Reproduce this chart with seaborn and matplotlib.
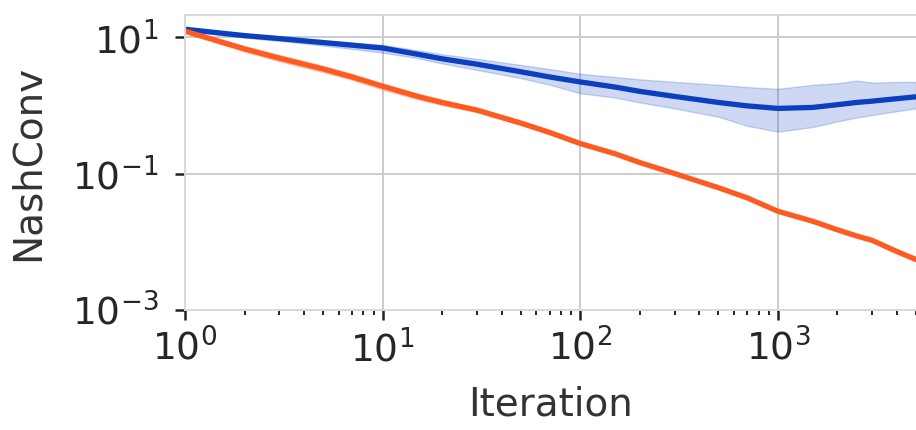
import numpy as np
import pandas as pd
import matplotlib
matplotlib.use('Agg')
import matplotlib.pyplot as plt
import seaborn as sns

# iterations sampled from the curves
iters = [1, 2, 3, 5, 7, 10, 15, 20, 30, 50, 70, 100, 150, 200, 300, 500, 700,
         1000, 1500, 2000, 2500, 3000, 4000, 5000]

# blue run (mean and band)
blue_mean = [13.0, 10.5, 9.5, 8.3, 7.6, 6.9, 5.6, 4.8, 4.0, 3.1, 2.6, 2.2, 1.85,
             1.6, 1.35, 1.1, 0.98, 0.9, 0.93, 1.02, 1.1, 1.15, 1.25, 1.33]
blue_hi = [13.6, 11.2, 10.2, 9.0, 8.3, 7.7, 6.4, 5.6, 4.8, 3.9, 3.4, 2.9, 2.6,
           2.4, 2.2, 2.0, 1.85, 1.74, 2.0, 2.1, 2.3, 2.15, 2.2, 2.2]
blue_lo = [12.5, 9.8, 8.8, 7.5, 6.7, 5.9, 4.9, 4.1, 3.3, 2.5, 2.0, 1.5, 1.3,
           1.1, 0.9, 0.68, 0.5, 0.41, 0.48, 0.58, 0.66, 0.72, 0.82, 0.9]

# orange run (mean and band)
orange_mean = [12.2, 6.7, 4.9, 3.4, 2.6, 1.9, 1.35, 1.1, 0.85, 0.55, 0.4, 0.275,
               0.195, 0.145, 0.1, 0.062, 0.044, 0.028, 0.02, 0.015, 0.0122,
               0.0105, 0.0072, 0.0055]
orange_hi = [13.0, 7.4, 5.5, 3.8, 2.9, 2.1, 1.5, 1.2, 0.92, 0.59, 0.43, 0.29,
             0.205, 0.152, 0.105, 0.065, 0.046, 0.0295, 0.021, 0.0158, 0.0129,
             0.011, 0.0076, 0.0058]
orange_lo = [11.4, 6.1, 4.4, 3.05, 2.35, 1.7, 1.22, 1.0, 0.79, 0.51, 0.375, 0.26,
             0.185, 0.138, 0.095, 0.059, 0.042, 0.0266, 0.019, 0.0142, 0.0115,
             0.01, 0.0068, 0.0052]

BLUE = '#0a3fbf'
ORANGE = '#ff5a1f'

sns.set_theme(style='whitegrid')
plt.rcParams['font.family'] = ['DejaVu Sans']
plt.rcParams.update({
    'axes.edgecolor': '#d9d9d9',
    'axes.linewidth': 1.4,
    'grid.color': '#cccccc',
    'grid.linewidth': 1.4,
    'xtick.bottom': True,
    'ytick.left': True,
})

df = pd.DataFrame({
    'Iteration': iters * 2,
    'NashConv': blue_mean + orange_mean,
    'run': ['blue'] * len(iters) + ['orange'] * len(iters),
})

fig = plt.figure(figsize=(9.16, 4.30), dpi=100)
ax = fig.add_axes([0.202, 0.279, 0.798, 0.686])

ax.fill_between(iters, blue_lo, blue_hi, color=BLUE, alpha=0.2, lw=1)
ax.fill_between(iters, orange_lo, orange_hi, color=ORANGE, alpha=0.25, lw=0.8)
sns.lineplot(data=df, x='Iteration', y='NashConv', hue='run',
             palette={'blue': BLUE, 'orange': ORANGE}, lw=3.8,
             legend=False, ax=ax)

ax.set_xscale('log')
ax.set_yscale('log')
ax.set_xlim(1, 5000)
ax.set_ylim(1e-3, 21)
ax.set_yticks([1e-3, 1e-1, 1e1])
ax.tick_params(which='major', length=7, width=1.8, color='#222222',
               labelsize=27, labelcolor='#262626')
ax.tick_params(which='minor', length=3.6, width=1.4, color='#222222')
ax.tick_params(axis='x', which='major', pad=7)
ax.tick_params(axis='y', which='major', pad=12)
ax.set_xlabel('Iteration', fontsize=28, color='#333333', labelpad=12)
ax.set_ylabel('NashConv', fontsize=28, color='#333333', labelpad=18)
ax.spines['right'].set_visible(False)

plt.savefig('out.png', dpi=100)
